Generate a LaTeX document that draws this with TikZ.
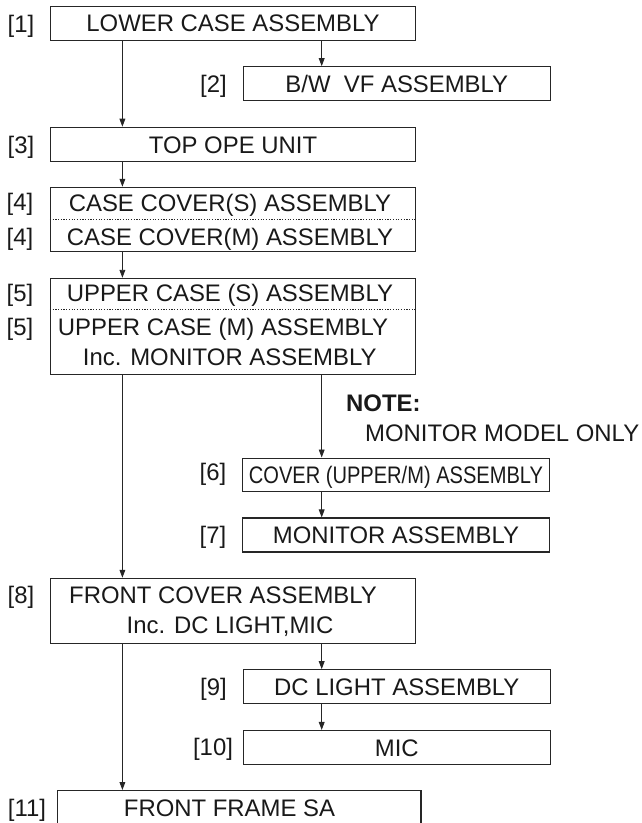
\documentclass[tikz,border=0pt]{standalone}
\usepackage{fontspec}
\setmainfont{Liberation Sans}
\newfontfamily\narrowsans[FakeStretch=0.84]{Liberation Sans}
\newcommand{\partsize}{\fontsize{23.9}{28}\selectfont}
\usetikzlibrary{arrows.meta}
\tikzset{
  unit/.style={draw=black!85,line width=1.1pt,inner sep=0pt,text height=17pt,text depth=0pt},
  mainunit/.style={unit,minimum width=365pt,minimum height=34.5pt},
  subunit/.style={unit,minimum width=306.5pt,minimum height=34pt},
  tag/.style={inner sep=0pt,text height=17pt,text depth=0pt},
  flow/.style={draw=black!85,line width=0.9pt,-{Triangle[length=8pt,width=5.8pt]}},
  divider/.style={draw=black!85,line width=1pt,dash pattern=on 1.2pt off 1.5pt}
}

\begin{document}
\begin{tikzpicture}[x=1pt,y=-1pt,every node/.style={font=\partsize,text=black!90}]
  \useasboundingbox (0,0) rectangle (641,823);
  \clip (0,0) rectangle (641,823);
  \coordinate (lrail) at (122.4,0);
  \coordinate (rrail) at (321.7,0);

  \node[mainunit] (lcase) at (233,23.4) {LOWER CASE ASSEMBLY};
  \node[tag] (t1) at (21,23.5) {[1]};
  \node[subunit] (vf) at (396.8,83.7) {B/W\ \ VF ASSEMBLY};
  \node[tag] (t2) at (213.5,83.7) {[2]};
  \draw[flow] (lcase.south -| rrail) -- (vf.north -| rrail);

  \node[mainunit] (ope) at (233,144.5) {TOP OPE UNIT};
  \node[tag] (t3) at (21,144.5) {[3]};
  \draw[flow] (lcase.south -| lrail) -- (ope.north -| lrail);

  % case cover S / M
  \node[mainunit,minimum height=64.4pt] (cover) at (233,219.5) {};
  \node[tag] (covs) at (230,203) {CASE COVER(S) ASSEMBLY};
  \node[tag] (covm) at (230,236.7) {CASE COVER(M) ASSEMBLY};
  \draw[divider] (cover.west) -- (cover.east);
  \node[tag] (t4a) at (20,202) {[4]};
  \node[tag] (t4b) at (20,237) {[4]};
  \draw[flow] (ope.south -| lrail) -- (cover.north -| lrail);

  % upper case S / M
  \node[mainunit,minimum height=95.7pt] (upper) at (233,326.2) {};
  \node[tag] (ups) at (230,293) {UPPER CASE (S) ASSEMBLY};
  \node[tag] (upm) at (223,327) {UPPER CASE (M) ASSEMBLY};
  \node[tag] (upinc) at (229.7,357) {Inc. MONITOR ASSEMBLY};
  \coordinate (usep) at (0,309.3);
  \draw[divider] (upper.west |- usep) -- (upper.east |- usep);
  \node[tag] (t5a) at (20,293) {[5]};
  \node[tag] (t5b) at (20,327) {[5]};
  \draw[flow] (cover.south -| lrail) -- (upper.north -| lrail);

  \node[tag,anchor=west,font=\partsize\bfseries] (note) at (346,403) {NOTE:};
  \node[tag,anchor=west] (only) at (365,432.5) {MONITOR MODEL ONLY};

  \node[subunit,minimum height=33.5pt,font=\narrowsans\partsize] (cvr) at (396,474.8) {COVER (UPPER/M) ASSEMBLY};
  \node[tag] (t6) at (213,472) {[6]};
  \draw[flow] (upper.south -| rrail) -- (cvr.north -| rrail);
  \node[subunit] (mon) at (396,535) {MONITOR ASSEMBLY};
  \node[tag] (t7) at (213,535) {[7]};
  \draw[flow] (cvr.south -| rrail) -- (mon.north -| rrail);

  % front cover
  \node[mainunit,minimum height=65pt] (front) at (233,610.8) {};
  \node[tag] (fcov) at (223,595) {FRONT COVER ASSEMBLY};
  \node[tag] (finc) at (230,625) {Inc. DC LIGHT,MIC};
  \node[tag] (t8) at (21,595) {[8]};
  \draw[flow] (upper.south -| lrail) -- (front.north -| lrail);

  \node[subunit] (light) at (396.8,686.7) {DC LIGHT ASSEMBLY};
  \node[tag] (t9) at (213.5,687) {[9]};
  \draw[flow] (front.south -| rrail) -- (light.north -| rrail);
  \node[subunit] (mic) at (396.8,747.5) {MIC};
  \node[tag] (t10) at (213,747) {[10]};
  \draw[flow] (light.south -| rrail) -- (mic.north -| rrail);

  \node[unit,minimum width=363.6pt,minimum height=34.5pt] (frame) at (239.2,807.8) {};
  \node[tag] (ffsa) at (229.5,808) {FRONT FRAME SA};
  \node[tag] (t11) at (27,808) {[11]};
  \draw[flow] (front.south -| lrail) -- (frame.north -| lrail);
\end{tikzpicture}
\end{document}
